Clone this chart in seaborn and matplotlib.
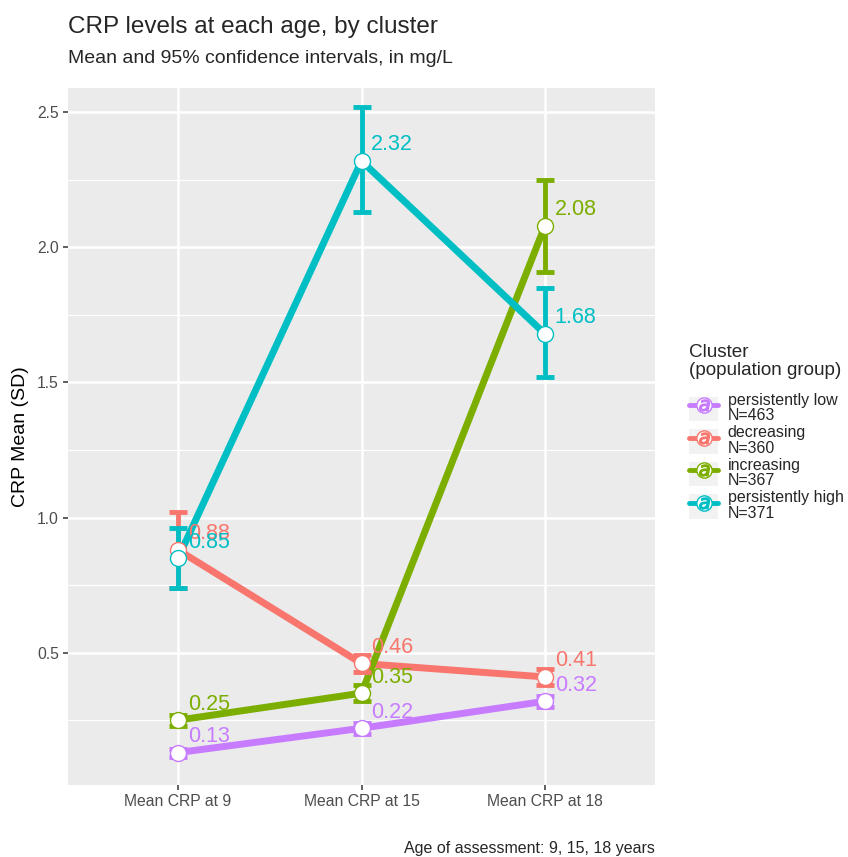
import pandas as pd
import matplotlib.pyplot as plt
import matplotlib.patches as mpatches
from matplotlib.lines import Line2D
from matplotlib.legend_handler import HandlerTuple
from matplotlib.ticker import MultipleLocator
import seaborn as sns

# Datos
EDADES = ["Mean CRP at 9", "Mean CRP at 15", "Mean CRP at 18"]
CLUSTERS = ["persistently low", "decreasing", "increasing", "persistently high"]
ETIQUETAS = ["persistently low\nN=463", "decreasing\nN=360",
             "increasing\nN=367", "persistently high\nN=371"]
COLORES = ["#C77CFF", "#F8766D", "#7CAE00", "#00BFC4"]

media_low = [0.13, 0.22, 0.32]
media_dec = [0.88, 0.46, 0.41]
media_inc = [0.25, 0.35, 2.08]
media_high = [0.85, 2.32, 1.68]

ic_inf_low = [0.115, 0.20, 0.30]
ic_sup_low = [0.145, 0.24, 0.34]
ic_inf_dec = [0.74, 0.43, 0.38]
ic_sup_dec = [1.02, 0.49, 0.44]
ic_inf_inc = [0.23, 0.32, 1.91]
ic_sup_inc = [0.27, 0.38, 2.25]
ic_inf_high = [0.74, 2.13, 1.52]
ic_sup_high = [0.96, 2.52, 1.85]

medias = [media_low, media_dec, media_inc, media_high]
inferiores = [ic_inf_low, ic_inf_dec, ic_inf_inc, ic_inf_high]
superiores = [ic_sup_low, ic_sup_dec, ic_sup_inc, ic_sup_high]

filas = []
for c, m, lo, hi in zip(CLUSTERS, medias, inferiores, superiores):
    for e, v, a, b in zip(EDADES, m, lo, hi):
        filas.append({"edad": e, "crp": v, "lo": a, "hi": b, "cluster": c})
df = pd.DataFrame(filas)
df["pos"] = df["edad"].map({e: i for i, e in enumerate(EDADES)})

sns.set_theme(style="darkgrid", rc={
    "axes.facecolor": "#EBEBEB",
    "grid.color": "white",
    "axes.edgecolor": "none",
})
plt.rcParams["font.family"] = ["Liberation Sans", "DejaVu Sans"]

fig = plt.figure(figsize=(8.48, 8.57), dpi=100)
ax = fig.add_axes([68 / 848, 72 / 857, 587 / 848, 697 / 857])

paleta = dict(zip(CLUSTERS, COLORES))

sns.lineplot(data=df, x="pos", y="crp", hue="cluster", hue_order=CLUSTERS,
             palette=paleta, lw=5, legend=False, ax=ax, zorder=2, sort=False)

for c in CLUSTERS:
    sub = df[df["cluster"] == c]
    col = paleta[c]
    ax.errorbar(sub["pos"], sub["crp"],
                yerr=[sub["crp"] - sub["lo"], sub["hi"] - sub["crp"]],
                fmt="none", ecolor=col, elinewidth=3.5, capsize=6.5,
                capthick=3.5, zorder=3)
for c in CLUSTERS:
    sub = df[df["cluster"] == c]
    col = paleta[c]
    ax.plot(sub["pos"], sub["crp"], ls="none", marker="o", ms=11.5,
            mfc="white", mec=col, mew=1.0, zorder=4)
for c in CLUSTERS:
    sub = df[df["cluster"] == c]
    col = paleta[c]
    for x, y in zip(sub["pos"], sub["crp"]):
        ax.annotate(f"{y:.2f}", (x, y), xytext=(7, 11.5), textcoords="offset points",
                    ha="left", va="center", fontsize=15.5, color=col, zorder=5)

ax.set_xlim(-0.6, 2.6)
ax.set_ylim(0.01, 2.59)
ax.set_xticks(range(len(EDADES)))
ax.set_xticklabels(EDADES)
ax.yaxis.set_major_locator(MultipleLocator(0.5))
ax.yaxis.set_minor_locator(MultipleLocator(0.25))
ax.set_yticks([0.5, 1.0, 1.5, 2.0, 2.5])
ax.set_yticklabels(["0.5", "1.0", "1.5", "2.0", "2.5"])
ax.grid(True, which="major", color="white", lw=1.8)
ax.grid(True, which="minor", axis="y", color="white", lw=0.9)
ax.tick_params(axis="both", which="major", length=3.5, width=1.1, color="#333333",
               labelsize=11.3, labelcolor="#4D4D4D", pad=3, left=True, bottom=True)
ax.tick_params(axis="both", which="minor", length=0)
ax.set_xlabel("")
ax.set_ylabel("CRP Mean (SD)", fontsize=14, color="black", labelpad=6)
for s in ax.spines.values():
    s.set_visible(False)

fig.text(68 / 848, 1 - 33 / 857, "CRP levels at each age, by cluster",
         fontsize=17.5, ha="left", va="baseline")
fig.text(68 / 848, 1 - 63 / 857, "Mean and 95% confidence intervals, in mg/L",
         fontsize=14, ha="left", va="baseline")
fig.text(655 / 848, 1 - 853 / 857, "Age of assessment: 9, 15, 18 years",
         fontsize=11.5, ha="right", va="baseline")

# Leyenda con claves tipo ggplot
handles = []
for col in COLORES:
    handles.append((
        mpatches.Patch(facecolor="#F2F2F2", edgecolor="none"),
        Line2D([], [], color=col, lw=3.5),
        Line2D([], [], ls="none", marker="o", ms=11, mfc="white", mec=col, mew=1.0),
        Line2D([], [], ls="none", marker="$a$", ms=8, color=col),
    ))
leg = fig.legend(handles, ETIQUETAS, handler_map={tuple: HandlerTuple(ndivide=1)},
                 loc="upper left", bbox_to_anchor=(678 / 848, 1 - 333 / 857),
                 frameon=False, fontsize=11.5, title="Cluster\n(population group)",
                 title_fontsize=13.6, handlelength=1.8, handleheight=2.0,
                 labelspacing=0.12, handletextpad=0.6, borderpad=0.2,
                 alignment="left")
for t in leg.get_texts():
    t.set_linespacing(1.05)
leg.get_title().set_linespacing(1.05)
leg._legend_box.sep = 10

fig.savefig("out.png", dpi=100)
